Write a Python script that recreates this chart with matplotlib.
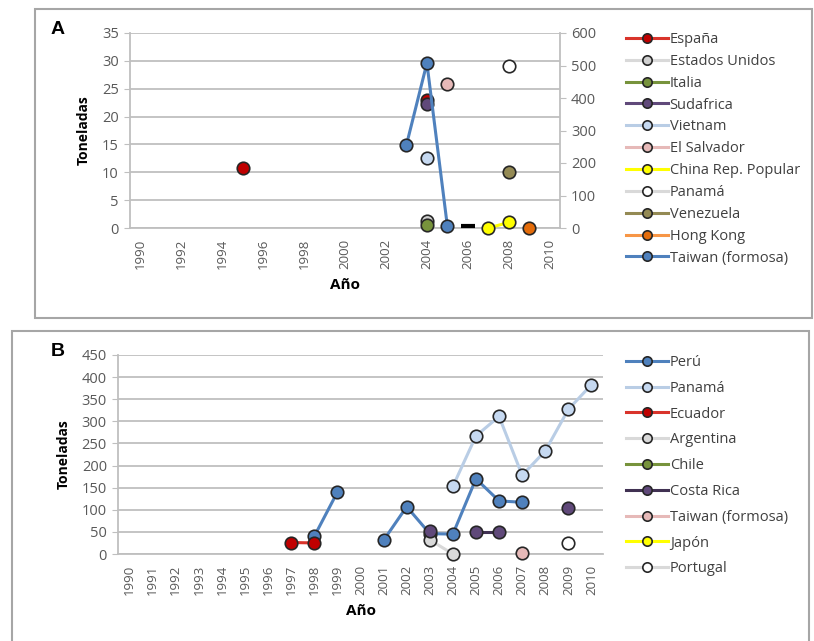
import matplotlib
matplotlib.use('Agg')
import matplotlib.pyplot as plt
import numpy as np
from matplotlib.patches import Rectangle

plt.rcParams['font.family'] = ['Open Sans', 'DejaVu Sans']

# ---- panel A (toneladas, eje izq. 0-35, eje der. 0-600) ----
espana_x = [1995, 2004]
espana_y = [10.8, 23.0]
eeuu_x = [2004]
eeuu_y = [1.3]
italia_x = [2004]
italia_y = [0.5]
sudafrica_x = [2004]
sudafrica_y = [22.3]
vietnam_x = [2004]
vietnam_y = [12.6]
salvador_x = [2005]
salvador_y = [25.8]
china_x = [2007, 2008]
china_y = [0.0, 1.0]
panama_a_x = [2008]
panama_a_y = [29.1]
venezuela_x = [2008]
venezuela_y = [10.0]
hongkong_x = [2009]
hongkong_y = [0.0]
taiwan_a_x = [2003, 2004, 2005]
taiwan_a_y = [14.9, 29.6, 0.3]
guion_x = [2006]
guion_y = [0.4]

# ---- panel B ----
peru_x = [1998, 1999, 2001, 2002, 2003, 2004, 2005, 2006, 2007]
peru_y = [40, 140, 31, 107, 46, 45, 170, 120, 117]
panama_b_x = [2004, 2005, 2006, 2007, 2008, 2009, 2010]
panama_b_y = [153, 267, 311, 178, 233, 327, 383]
ecuador_x = [1997, 1998]
ecuador_y = [26, 25]
argentina_x = [2003, 2004]
argentina_y = [32, 0]
chile_x = []
chile_y = []
costarica_x = [2003, 2005, 2006, 2009]
costarica_y = [52, 50, 50, 104]
taiwan_b_x = [2007]
taiwan_b_y = [2]
japon_x = []
japon_y = []
portugal_x = [2009]
portugal_y = [25]

years = list(range(1990, 2011))

series_a = [
    ('España', espana_x, espana_y, '#C00000', '#D9342B'),
    ('Estados Unidos', eeuu_x, eeuu_y, '#D0D0D0', '#D9D9D9'),
    ('Italia', italia_x, italia_y, '#77933C', '#77933C'),
    ('Sudafrica', sudafrica_x, sudafrica_y, '#60497A', '#60497A'),
    ('Vietnam', vietnam_x, vietnam_y, '#C6D9F1', '#B9CDE5'),
    ('El Salvador', salvador_x, salvador_y, '#E6B9B8', '#E6B9B8'),
    ('China Rep. Popular', china_x, china_y, '#FFFF00', '#FFFF00'),
    ('Panamá', panama_a_x, panama_a_y, '#FFFFFF', '#D9D9D9'),
    ('Venezuela', venezuela_x, venezuela_y, '#948A54', '#948A54'),
    ('Hong Kong', hongkong_x, hongkong_y, '#E46C0A', '#F79646'),
    ('Taiwan (formosa)', taiwan_a_x, taiwan_a_y, '#4F81BD', '#4F81BD'),
]

series_b = [
    ('Perú', peru_x, peru_y, '#4F81BD', '#4F81BD'),
    ('Panamá', panama_b_x, panama_b_y, '#C6D9F1', '#B9CDE5'),
    ('Ecuador', ecuador_x, ecuador_y, '#C00000', '#D9342B'),
    ('Argentina', argentina_x, argentina_y, '#D9D9D9', '#D9D9D9'),
    ('Chile', chile_x, chile_y, '#77933C', '#77933C'),
    ('Costa Rica', costarica_x, costarica_y, '#60497A', '#403152'),
    ('Taiwan (formosa)', taiwan_b_x, taiwan_b_y, '#E6B9B8', '#E6B9B8'),
    ('Japón', japon_x, japon_y, '#FFFF00', '#FFFF00'),
    ('Portugal', portugal_x, portugal_y, '#FFFFFF', '#D9D9D9'),
]

GREY = '#595959'
GRID = '#BFBFBF'
TXT = '#404040'


def gaps(x, y):
    # excel no une puntos de años no consecutivos
    xs, ys = [], []
    for i in range(len(x)):
        if i and x[i] - x[i - 1] > 1:
            xs.append(np.nan)
            ys.append(np.nan)
        xs.append(x[i])
        ys.append(y[i])
    return xs, ys


def draw(ax, series):
    for label, x, y, fill, line in series:
        xs, ys = gaps(x, y)
        ax.plot(xs, ys, '-', color=line, lw=2.2, marker='o', ms=9,
                mfc=fill, mec='#262626', mew=1.2, label=label, clip_on=False,
                zorder=3)


def style(ax, ymax, ystep, xstep):
    ax.set_xlim(1989.5, 2010.5)
    ax.set_ylim(0, ymax)
    ax.set_yticks(np.arange(0, ymax + 1, ystep))
    ax.set_xticks(years[::xstep])
    ax.set_xticklabels([str(v) for v in years[::xstep]], rotation=90,
                       fontsize=9.5, color=GREY)
    ax.tick_params(axis='x', length=0, pad=8)
    ax.tick_params(axis='y', length=4, color=GRID, labelsize=10.5,
                   labelcolor=GREY, pad=4)
    ax.grid(axis='y', color=GRID, lw=1.3)
    ax.set_axisbelow(True)
    for s in ['top', 'right']:
        ax.spines[s].set_visible(False)
    for s in ['left', 'bottom']:
        ax.spines[s].set_color(GRID)
        ax.spines[s].set_linewidth(1.3)


def legend(handles, labels, top, spacing):
    fig.legend(handles, labels, loc='upper left',
               bbox_to_anchor=(626 / 814, 1 - top / 641),
               frameon=False, fontsize=10.5, handlelength=2.9,
               handletextpad=0.1, labelspacing=spacing, borderpad=0,
               borderaxespad=0, numpoints=1, markerscale=0.75,
               labelcolor=TXT)


fig = plt.figure(figsize=(8.14, 6.41), dpi=100)

# marcos de los paneles
fig.patches.append(Rectangle((35 / 814, 1 - 318 / 641), 777 / 814, 309 / 641,
                             transform=fig.transFigure, fill=False,
                             ec='#A6A6A6', lw=1.5))
fig.patches.append(Rectangle((12 / 814, 1 - 645 / 641), 797 / 814, 314 / 641,
                             transform=fig.transFigure, fill=False,
                             ec='#A6A6A6', lw=1.5))

# ---- A ----
axa = fig.add_axes([130 / 814, 1 - 228 / 641, 430 / 814, 195 / 641])
draw(axa, series_a)
axa.plot(guion_x, guion_y, marker='_', ms=10, mew=3, color='black',
         ls='none', clip_on=False, zorder=3)
style(axa, 35, 5, 2)
axa.set_ylabel('Toneladas', fontsize=10, fontweight='bold', labelpad=8)
axa.set_xlabel('Año', fontsize=11, fontweight='bold', labelpad=6)
ax2 = axa.twinx()
ax2.set_ylim(0, 600)
ax2.set_yticks(np.arange(0, 601, 100))
ax2.tick_params(axis='y', length=4, color=GRID, labelsize=10.5,
                labelcolor=GREY, pad=4)
for s in ['top', 'left', 'bottom']:
    ax2.spines[s].set_visible(False)
ax2.spines['right'].set_color(GRID)
ax2.spines['right'].set_linewidth(1.3)
h, l = axa.get_legend_handles_labels()
legend(h, l, 32, 0.47)
fig.text(58 / 814, 1 - 30 / 641, 'A', fontsize=14, fontweight='bold',
         family='Liberation Sans', ha='center', va='center')

# ---- B ----
axb = fig.add_axes([118 / 814, 1 - 554 / 641, 485 / 814, 199 / 641])
draw(axb, series_b)
style(axb, 450, 50, 1)
axb.set_ylabel('Toneladas', fontsize=10, fontweight='bold', labelpad=8)
axb.set_xlabel('Año', fontsize=11, fontweight='bold', labelpad=6)
h, l = axb.get_legend_handles_labels()
legend(h, l, 355, 0.74)
fig.text(58 / 814, 1 - 352 / 641, 'B', fontsize=14, fontweight='bold',
         family='Liberation Sans', ha='center', va='center')

fig.savefig('out.png', dpi=100)
